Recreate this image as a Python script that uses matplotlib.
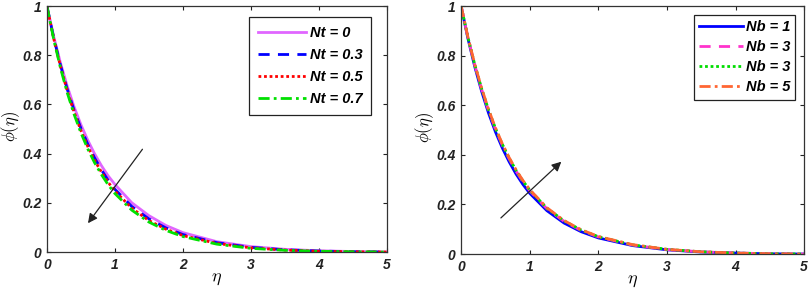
import matplotlib
matplotlib.use("Agg")
import matplotlib.pyplot as plt
from matplotlib.ticker import FuncFormatter

plt.rcParams['font.family'] = ['Liberation Sans', 'DejaVu Sans']
plt.rcParams['mathtext.fontset'] = 'cm'

# eta grid the values were read on
eta = [0, 0.1, 0.2, 0.3, 0.4, 0.5, 0.6, 0.7, 0.8, 0.9, 1.0,
       1.25, 1.5, 1.75, 2.0, 2.5, 3.0, 3.5, 4.0, 4.5, 5.0]

# left panel: Nt
nt_labels = ['Nt = 0', 'Nt = 0.3', 'Nt = 0.5', 'Nt = 0.7']
phi_nt0 = [1, 0.876, 0.768, 0.673, 0.59, 0.518, 0.455, 0.40, 0.352, 0.31, 0.275,
           0.20, 0.148, 0.108, 0.079, 0.042, 0.022, 0.011, 0.005, 0.002, 0]
phi_nt3 = [1, 0.871, 0.759, 0.661, 0.576, 0.503, 0.439, 0.383, 0.335, 0.292, 0.255,
           0.185, 0.135, 0.098, 0.071, 0.038, 0.019, 0.009, 0.004, 0.001, 0]
phi_nt5 = [1, 0.868, 0.754, 0.655, 0.569, 0.494, 0.43, 0.374, 0.326, 0.284, 0.248,
           0.178, 0.128, 0.093, 0.067, 0.035, 0.017, 0.008, 0.003, 0.001, 0]
phi_nt7 = [1, 0.865, 0.748, 0.647, 0.56, 0.485, 0.42, 0.364, 0.316, 0.274, 0.238,
           0.17, 0.122, 0.088, 0.063, 0.032, 0.015, 0.007, 0.003, 0.001, 0]

# right panel: Nb
nb_labels = ['Nb = 1', 'Nb = 3', 'Nb = 3', 'Nb = 5']
phi_nb1 = [1, 0.868, 0.754, 0.655, 0.568, 0.493, 0.428, 0.372, 0.323, 0.281, 0.245,
           0.175, 0.125, 0.09, 0.065, 0.034, 0.017, 0.008, 0.004, 0.001, 0]
phi_nb3 = [1, 0.872, 0.761, 0.663, 0.578, 0.504, 0.44, 0.384, 0.335, 0.292, 0.255,
           0.183, 0.132, 0.095, 0.069, 0.036, 0.018, 0.009, 0.004, 0.001, 0]
phi_nb3b = [1, 0.873, 0.763, 0.666, 0.581, 0.507, 0.443, 0.387, 0.338, 0.295, 0.258,
            0.185, 0.134, 0.097, 0.07, 0.037, 0.019, 0.009, 0.004, 0.001, 0]
phi_nb5 = [1, 0.874, 0.764, 0.668, 0.583, 0.509, 0.445, 0.389, 0.34, 0.297, 0.26,
           0.187, 0.135, 0.098, 0.071, 0.038, 0.019, 0.009, 0.004, 0.001, 0]

fig = plt.figure(figsize=(8.09, 2.9), dpi=100)
ax1 = fig.add_axes([0.058, 0.131, 0.420, 0.848])
ax2 = fig.add_axes([0.570, 0.124, 0.424, 0.855])

lw = 2.0
ax1.plot(eta, phi_nt0, color='#E066FF', ls='-', lw=lw, label=nt_labels[0])
ax1.plot(eta, phi_nt3, color='#0000FF', ls=(0, (4, 3)), lw=lw, label=nt_labels[1])
ax1.plot(eta, phi_nt5, color='#FF0000', ls=(0, (1, 1)), lw=lw, label=nt_labels[2])
ax1.plot(eta, phi_nt7, color='#00E000', ls=(0, (4, 1.5, 1, 1.5)), lw=lw, label=nt_labels[3])

ax2.plot(eta, phi_nb1, color='#0000FF', ls='-', lw=lw, label=nb_labels[0])
ax2.plot(eta, phi_nb3, color='#FF33CC', ls=(0, (4, 3)), lw=lw, label=nb_labels[1])
ax2.plot(eta, phi_nb3b, color='#00DD00', ls=(0, (1, 1)), lw=lw, label=nb_labels[2])
ax2.plot(eta, phi_nb5, color='#FF6633', ls=(0, (4, 1.5, 1, 1.5)), lw=lw, label=nb_labels[3])

fmt = FuncFormatter(lambda v, p: '%g' % v)
for ax in (ax1, ax2):
    ax.set_xlim(0, 5)
    ax.set_ylim(0, 1)
    ax.set_xticks([0, 1, 2, 3, 4, 5])
    ax.set_yticks([0, 0.2, 0.4, 0.6, 0.8, 1])
    ax.xaxis.set_major_formatter(fmt)
    ax.yaxis.set_major_formatter(fmt)
    ax.tick_params(direction='in', top=True, right=True, length=3, width=0.8,
                   labelsize=10, colors='#222222', pad=4)
    for t in ax.get_xticklabels() + ax.get_yticklabels():
        t.set_fontweight('bold')
        t.set_fontstyle('italic')
    for s in ax.spines.values():
        s.set_linewidth(0.9)
        s.set_color('#333333')
    ax.set_xlabel(r'$\eta$', fontsize=13, labelpad=-1)
    ax.set_ylabel(r'$\phi(\eta)$', fontsize=12)

ax1.yaxis.set_label_coords(-0.073, 0.51)
ax2.yaxis.set_label_coords(-0.073, 0.51)

leg_props = {'weight': 'bold', 'style': 'italic', 'size': 10.5}
l1 = ax1.legend(loc='upper left', bbox_to_anchor=(0.594, 0.955), prop=leg_props,
                fancybox=False, edgecolor='#222222', framealpha=1, handlelength=3.3,
                handletextpad=0.3, borderpad=0.6, labelspacing=0.55, borderaxespad=0)
l1.get_frame().set_linewidth(0.9)
l2 = ax2.legend(loc='upper left', bbox_to_anchor=(0.679, 0.964), prop=leg_props,
                fancybox=False, edgecolor='#222222', framealpha=1, handlelength=3.0,
                handletextpad=0.2, borderpad=0.35, labelspacing=0.42, borderaxespad=0)
l2.get_frame().set_linewidth(0.9)

ax1.annotate('', xy=(0.58, 0.108), xytext=(1.43, 0.427),
             arrowprops=dict(arrowstyle='-|>', color='#222222', lw=0.9, mutation_scale=14))
ax2.annotate('', xy=(1.49, 0.38), xytext=(0.55, 0.138),
             arrowprops=dict(arrowstyle='-|>', color='#222222', lw=0.9, mutation_scale=14))

fig.savefig('out.png', dpi=100)
